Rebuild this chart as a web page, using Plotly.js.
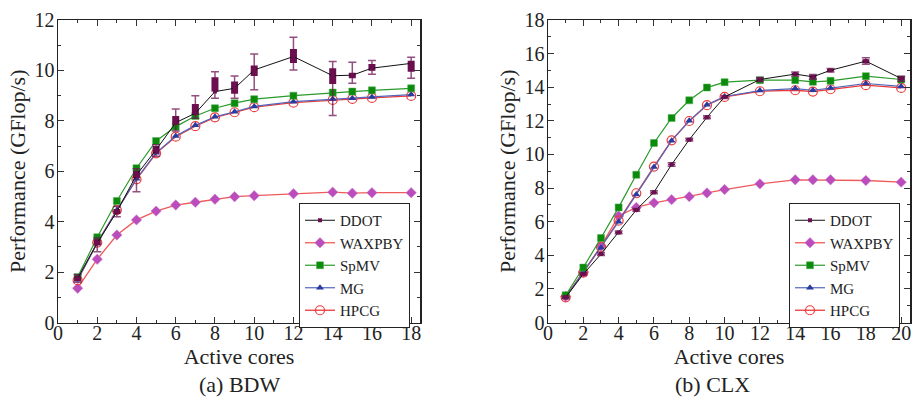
<!DOCTYPE html>
<html>
<head>
<meta charset="utf-8">
<script src="https://cdn.plot.ly/plotly-3.0.1.min.js"></script>
<style>html,body{margin:0;padding:0;background:#fff;}#chart{width:914px;height:401px;}</style>
</head>
<body>
<div id="chart"></div>
<script>
// ---------- (a) BDW ----------
const bdwCores = [1, 2, 3, 4, 5, 6, 7, 8, 9, 10, 12, 14, 15, 16, 18];
const bdwDDOT = [1.75, 3.15, 4.4, 5.85, 6.85, 7.93, 8.3, 9.16, 9.29, 10.02, 10.55, 9.79, 9.81, 10.09, 10.28];
const bdwDDOTBoxLo = [1.65, 3.05, 4.3, 5.72, 6.7, 7.84, 8.23, 9.16, 9.07, 9.78, 10.29, 9.46, 9.69, 9.99, 9.95];
const bdwDDOTBoxHi = [1.85, 3.3, 4.5, 6.02, 7.0, 8.19, 8.67, 9.73, 9.56, 10.2, 10.85, 10.09, 9.91, 10.25, 10.38];
const bdwDDOTMin = [1.6, 2.81, 4.2, 5.19, 6.6, 7.6, 8.1, 8.9, 8.9, 9.23, 10.02, 8.21, 9.49, 9.85, 9.69];
const bdwDDOTMax = [1.9, 3.35, 4.6, 6.1, 7.05, 8.47, 9.0, 9.95, 9.78, 10.65, 11.32, 10.35, 10.32, 10.39, 10.52];
const bdwWAXPBY = [1.36, 2.51, 3.47, 4.07, 4.42, 4.66, 4.77, 4.89, 4.99, 5.03, 5.11, 5.17, 5.13, 5.15, 5.15];
const bdwSpMV = [1.8, 3.38, 4.82, 6.12, 7.2, 7.77, 8.19, 8.5, 8.7, 8.86, 9.0, 9.12, 9.16, 9.21, 9.29];
const bdwMG = [1.7, 3.15, 4.45, 5.7, 6.73, 7.4, 7.82, 8.16, 8.36, 8.57, 8.76, 8.87, 8.9, 8.95, 9.04];
const bdwHPCG = [1.68, 3.17, 4.46, 5.68, 6.71, 7.37, 7.79, 8.14, 8.34, 8.54, 8.72, 8.83, 8.87, 8.91, 8.99];

// ---------- (b) CLX ----------
const clxCores = [1, 2, 3, 4, 5, 6, 7, 8, 9, 10, 12, 14, 15, 16, 18, 20];
const clxDDOT = [1.5, 2.88, 4.07, 5.36, 6.7, 7.75, 9.4, 10.88, 12.21, 13.42, 14.46, 14.78, 14.62, 15.01, 15.55, 14.52];
const clxDDOTBoxLo = [1.45, 2.83, 4.02, 5.31, 6.65, 7.7, 9.35, 10.83, 12.16, 13.37, 14.38, 14.7, 14.52, 14.94, 15.42, 14.42];
const clxDDOTBoxHi = [1.55, 2.93, 4.12, 5.41, 6.75, 7.8, 9.45, 10.93, 12.26, 13.47, 14.54, 14.86, 14.72, 15.08, 15.66, 14.62];
const clxDDOTMin = [1.42, 2.8, 3.98, 5.28, 6.62, 7.66, 9.3, 10.8, 12.12, 13.33, 14.34, 14.66, 14.48, 14.9, 15.36, 14.36];
const clxDDOTMax = [1.58, 2.96, 4.16, 5.44, 6.78, 7.84, 9.5, 10.96, 12.3, 13.51, 14.58, 14.9, 14.76, 15.12, 15.76, 14.66];
const clxWAXPBY = [1.55, 3.0, 4.55, 6.34, 6.85, 7.12, 7.31, 7.49, 7.71, 7.91, 8.25, 8.49, 8.49, 8.49, 8.45, 8.35];
const clxSpMV = [1.62, 3.27, 5.03, 6.85, 8.79, 10.68, 12.17, 13.22, 13.98, 14.3, 14.42, 14.42, 14.32, 14.38, 14.66, 14.46];
const clxMG = [1.5, 3.0, 4.45, 6.0, 7.62, 9.25, 10.82, 12.0, 12.95, 13.45, 13.8, 13.92, 13.82, 13.95, 14.22, 14.05];
const clxHPCG = [1.5, 2.97, 4.5, 6.06, 7.69, 9.28, 10.84, 11.99, 12.93, 13.42, 13.76, 13.82, 13.74, 13.88, 14.12, 13.96];

const seriesNames = ['DDOT', 'WAXPBY', 'SpMV', 'MG', 'HPCG'];
const axisTitleX = 'Active cores';
const axisTitleY = 'Performance (GFlop/s)';
const captions = ['(a) BDW', '(b) CLX'];

const FONT = "'Liberation Serif', 'Times New Roman', Times, serif";
const PURPLE = '#6b0f4f';
const PURPLE_LIGHT = 'rgba(110,20,85,0.75)';

function panelTraces(x, d, dBoxLo, dBoxHi, dMin, dMax, wax, spmv, mg, hpcg, xa, ya, leg) {
  const up = (hi, c) => hi.map((v, i) => v - c[i]);
  const dn = (lo, c) => lo.map((v, i) => c[i] - v);
  return [
    {x: x, y: wax, name: seriesNames[1], xaxis: xa, yaxis: ya, legend: leg, legendrank: 2,
     mode: 'lines+markers', line: {color: '#ee5a5a', width: 1.3},
     marker: {symbol: 'diamond', size: 8, color: '#bb4cbb', line: {color: '#cc77cc', width: 0.5}}},
    {x: x, y: hpcg, name: seriesNames[4], xaxis: xa, yaxis: ya, legend: leg, legendrank: 5,
     mode: 'lines+markers', line: {color: '#e83a3a', width: 1.3},
     marker: {symbol: 'circle-open', size: 9, color: '#ee3b3b', line: {width: 1.2}}},
    {x: x, y: mg, name: seriesNames[3], xaxis: xa, yaxis: ya, legend: leg, legendrank: 4,
     mode: 'lines+markers', line: {color: '#5566bb', width: 1.2},
     marker: {symbol: 'triangle-up', size: 7, color: '#2a3a9e'}},
    {x: x, y: spmv, name: seriesNames[2], xaxis: xa, yaxis: ya, legend: leg, legendrank: 3,
     mode: 'lines+markers', line: {color: '#2a9a2a', width: 1.2},
     marker: {symbol: 'square', size: 7, color: '#0b8a0b', line: {color: '#4caf4c', width: 0.5}}},
    {x: x, y: d, name: seriesNames[0] + ' range', xaxis: xa, yaxis: ya, showlegend: false, hoverinfo: 'skip',
     mode: 'markers', marker: {size: 1, color: 'rgba(0,0,0,0)'},
     error_y: {type: 'data', symmetric: false, array: up(dMax, d), arrayminus: dn(dMin, d),
               color: PURPLE_LIGHT, thickness: 1.5, width: 4}},
    {x: x, y: d, name: seriesNames[0], xaxis: xa, yaxis: ya, legend: leg, legendrank: 1,
     mode: 'lines+markers', line: {color: '#111111', width: 1},
     marker: {symbol: 'square', size: 4, color: PURPLE},
     error_y: {type: 'data', symmetric: false, array: up(dBoxHi, d), arrayminus: dn(dBoxLo, d),
               color: PURPLE, thickness: 7, width: 0}}
  ];
}

const data = [].concat(
  panelTraces(bdwCores, bdwDDOT, bdwDDOTBoxLo, bdwDDOTBoxHi, bdwDDOTMin, bdwDDOTMax,
              bdwWAXPBY, bdwSpMV, bdwMG, bdwHPCG, 'x', 'y', 'legend'),
  panelTraces(clxCores, clxDDOT, clxDDOTBoxLo, clxDDOTBoxHi, clxDDOTMin, clxDDOTMax,
              clxWAXPBY, clxSpMV, clxMG, clxHPCG, 'x2', 'y2', 'legend2')
);

function xAxis(domain, range, anchor) {
  return {domain: domain, range: range, anchor: anchor, tick0: 0, dtick: 2,
    ticks: 'inside', ticklen: 6, tickwidth: 1, tickcolor: '#333', mirror: 'ticks',
    showline: true, linecolor: '#222', linewidth: 1.5, showgrid: false, zeroline: false,
    minor: {dtick: 1, ticks: 'inside', ticklen: 3, tickcolor: '#333', showgrid: false},
    tickfont: {family: FONT, size: 20, color: '#222'}, ticklabelstandoff: -8,
    title: {text: axisTitleX, font: {family: FONT, size: 22, color: '#222'}, standoff: 0}};
}
function yAxis(domain, range, anchor) {
  return {domain: domain, range: range, anchor: anchor, tick0: 0, dtick: 2,
    ticks: 'inside', ticklen: 6, tickwidth: 1, tickcolor: '#333', mirror: 'ticks',
    showline: true, linecolor: '#222', linewidth: 1.5, showgrid: false, zeroline: false,
    minor: {dtick: 1, ticks: 'inside', ticklen: 3, tickcolor: '#333', showgrid: false},
    tickfont: {family: FONT, size: 20, color: '#222'}, ticklabelstandoff: -2,
    title: {text: axisTitleY, font: {family: FONT, size: 22, color: '#222'}, standoff: 3}};
}
function legendBox(x) {
  return {x: x, y: 1 - 203 / 401, xanchor: 'left', yanchor: 'top',
    bgcolor: '#fff', bordercolor: '#222', borderwidth: 1,
    font: {family: FONT, size: 15, color: '#222'}, tracegroupgap: 0, itemwidth: 30};
}

const yDom = [1 - 322.5 / 401, 1 - 20 / 401];
const layout = {
  width: 914, height: 401,
  margin: {l: 0, r: 0, t: 0, b: 0},
  font: {family: FONT, color: '#222'},
  paper_bgcolor: '#fff', plot_bgcolor: '#fff',
  showlegend: true,
  xaxis: xAxis([58 / 914, 420 / 914], [0, 18.45], 'y'),
  yaxis: yAxis(yDom, [0, 12], 'x'),
  xaxis2: xAxis([548 / 914, 910 / 914], [0, 20.5], 'y2'),
  yaxis2: yAxis(yDom, [0, 18], 'x2'),
  legend: legendBox(299 / 914),
  legend2: legendBox(789 / 914),
  annotations: [
    {text: captions[0], xref: 'paper', yref: 'paper', x: 240 / 914, y: 1 - 384 / 401,
     xanchor: 'center', yanchor: 'middle', showarrow: false, font: {family: FONT, size: 22, color: '#222'}},
    {text: captions[1], xref: 'paper', yref: 'paper', x: 712 / 914, y: 1 - 384 / 401,
     xanchor: 'center', yanchor: 'middle', showarrow: false, font: {family: FONT, size: 22, color: '#222'}}
  ]
};

Plotly.newPlot('chart', data, layout, {displayModeBar: false, staticPlot: true});
</script>
</body>
</html>
